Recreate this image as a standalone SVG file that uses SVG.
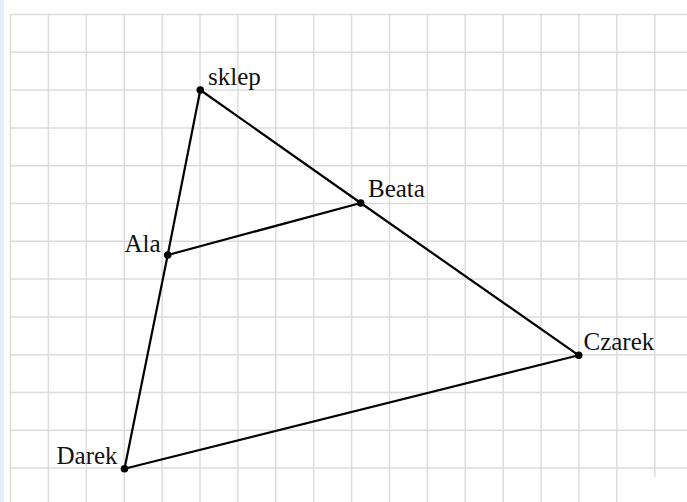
<svg xmlns="http://www.w3.org/2000/svg" width="687" height="502" viewBox="0 0 687 502">
<style>
.grid line{stroke:#dcdcdc;stroke-width:1.5}
.edge{stroke:#000;stroke-width:2.2;fill:none;stroke-linecap:round}
.dot{fill:#000}
.lbl{font-family:"Liberation Serif","Times New Roman",serif;font-size:25px;fill:#111}
</style>
<rect x="0" y="0" width="687" height="502" fill="#fff"/>
<rect x="0" y="0" width="4" height="502" fill="#e2effd"/>
<g class="grid">
<line x1="10.5" y1="14.5" x2="10.5" y2="502"/>
<line x1="48.4" y1="14.5" x2="48.4" y2="502"/>
<line x1="86.3" y1="14.5" x2="86.3" y2="502"/>
<line x1="124.2" y1="14.5" x2="124.2" y2="502"/>
<line x1="162.1" y1="14.5" x2="162.1" y2="502"/>
<line x1="200" y1="14.5" x2="200" y2="502"/>
<line x1="237.9" y1="14.5" x2="237.9" y2="502"/>
<line x1="275.8" y1="14.5" x2="275.8" y2="502"/>
<line x1="313.7" y1="14.5" x2="313.7" y2="502"/>
<line x1="351.6" y1="14.5" x2="351.6" y2="502"/>
<line x1="389.5" y1="14.5" x2="389.5" y2="502"/>
<line x1="427.4" y1="14.5" x2="427.4" y2="502"/>
<line x1="465.3" y1="14.5" x2="465.3" y2="502"/>
<line x1="503.2" y1="14.5" x2="503.2" y2="502"/>
<line x1="541.1" y1="14.5" x2="541.1" y2="502"/>
<line x1="579" y1="14.5" x2="579" y2="502"/>
<line x1="616.9" y1="14.5" x2="616.9" y2="502"/>
<line x1="654.8" y1="14.5" x2="654.8" y2="477"/>
<line x1="10" y1="14.5" x2="687" y2="14.5"/>
<line x1="10" y1="52.3" x2="687" y2="52.3"/>
<line x1="10" y1="90.1" x2="687" y2="90.1"/>
<line x1="10" y1="127.9" x2="687" y2="127.9"/>
<line x1="10" y1="165.7" x2="687" y2="165.7"/>
<line x1="10" y1="203.5" x2="687" y2="203.5"/>
<line x1="10" y1="241.3" x2="687" y2="241.3"/>
<line x1="10" y1="279.1" x2="687" y2="279.1"/>
<line x1="10" y1="316.9" x2="687" y2="316.9"/>
<line x1="10" y1="354.7" x2="687" y2="354.7"/>
<line x1="10" y1="392.5" x2="687" y2="392.5"/>
<line x1="10" y1="430.3" x2="687" y2="430.3"/>
<line x1="10" y1="468.1" x2="687" y2="468.1"/>
</g>
<g id="connectors">
<line class="edge" x1="200.3" y1="90" x2="167.7" y2="255"/>
<line class="edge" x1="167.7" y1="255" x2="124.5" y2="468.7"/>
<line class="edge" x1="200.3" y1="90" x2="360.7" y2="203"/>
<line class="edge" x1="360.7" y1="203" x2="578.7" y2="355.3"/>
<line class="edge" x1="167.7" y1="255" x2="360.7" y2="203"/>
<line class="edge" x1="124.5" y1="468.7" x2="578.7" y2="355.3"/>
</g>
<g id="sklep"><circle class="dot" cx="200.3" cy="90" r="3.8"/><text class="lbl" x="208" y="85">sklep</text></g>
<g id="beata"><circle class="dot" cx="360.7" cy="203" r="3.8"/><text class="lbl" x="368" y="197">Beata</text></g>
<g id="ala"><circle class="dot" cx="167.7" cy="255" r="3.8"/><text class="lbl" x="124.5" y="252">Ala</text></g>
<g id="czarek"><circle class="dot" cx="578.7" cy="355.3" r="3.8"/><text class="lbl" x="583.5" y="349.5">Czarek</text></g>
<g id="darek"><circle class="dot" cx="124.5" cy="468.7" r="3.8"/><text class="lbl" x="56.5" y="464">Darek</text></g>
</svg>
